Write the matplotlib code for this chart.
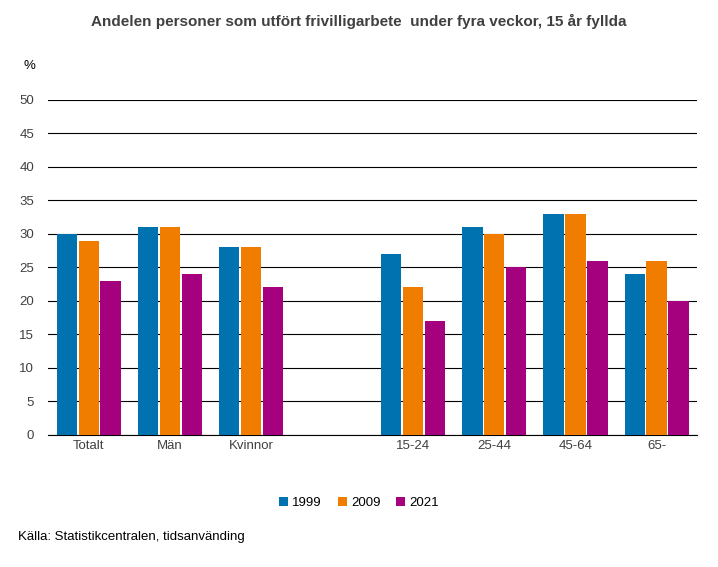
import numpy as np
import matplotlib
matplotlib.use("Agg")
import matplotlib.pyplot as plt

plt.rcParams["font.family"] = ["Liberation Sans", "DejaVu Sans"]

categories = ["Totalt", "Män", "Kvinnor", "", "15-24", "25-44", "45-64", "65-"]
years = ["1999", "2009", "2021"]
v1999 = [30, 31, 28, np.nan, 27, 31, 33, 24]
v2009 = [29, 31, 28, np.nan, 22, 30, 33, 26]
v2021 = [23, 24, 22, np.nan, 17, 25, 26, 20]
colors = ["#0072b0", "#f07c00", "#a5007e"]

fig = plt.figure(figsize=(7.18, 5.67), dpi=100)
ax = fig.add_axes([0.067, 0.233, 0.904, 0.591])

x = np.arange(len(categories))
w = 0.25
step = 0.27
for i, (vals, c, lab) in enumerate(zip([v1999, v2009, v2021], colors, years)):
    ax.bar(x + (i - 1) * step, vals, width=w, color=c, label=lab, zorder=3)

ax.set_xlim(-0.5, len(categories) - 0.5)
ax.set_ylim(0, 50)
ax.set_yticks(range(0, 51, 5))
ax.yaxis.grid(True, color="#000000", lw=0.8, zorder=0)
ax.set_xticks(x)
ax.set_xticklabels(categories)
ax.tick_params(axis="both", length=0, labelsize=9.5, colors="#404040")
ax.tick_params(axis="y", pad=10)
for s in ["left", "right", "top"]:
    ax.spines[s].set_visible(False)
ax.spines["bottom"].set_color("#000000")

fig.text(0.5, 0.962, "Andelen personer som utfört frivilligarbete  under fyra veckor, 15 år fyllda",
         ha="center", va="center", fontsize=11, fontweight="bold", color="#404040")
fig.text(0.033, 0.884, "%", ha="left", va="center", fontsize=9.5, color="#000000")
fig.legend(loc="center", bbox_to_anchor=(0.5, 0.113), ncol=3, frameon=False,
           fontsize=9.5, handlelength=0.7, handleheight=0.7, columnspacing=1.2, handletextpad=0.3)
fig.text(0.025, 0.053, "Källa: Statistikcentralen, tidsanvänding", ha="left", va="center",
         fontsize=9.5, color="#000000")

fig.savefig("out.png", dpi=100)
